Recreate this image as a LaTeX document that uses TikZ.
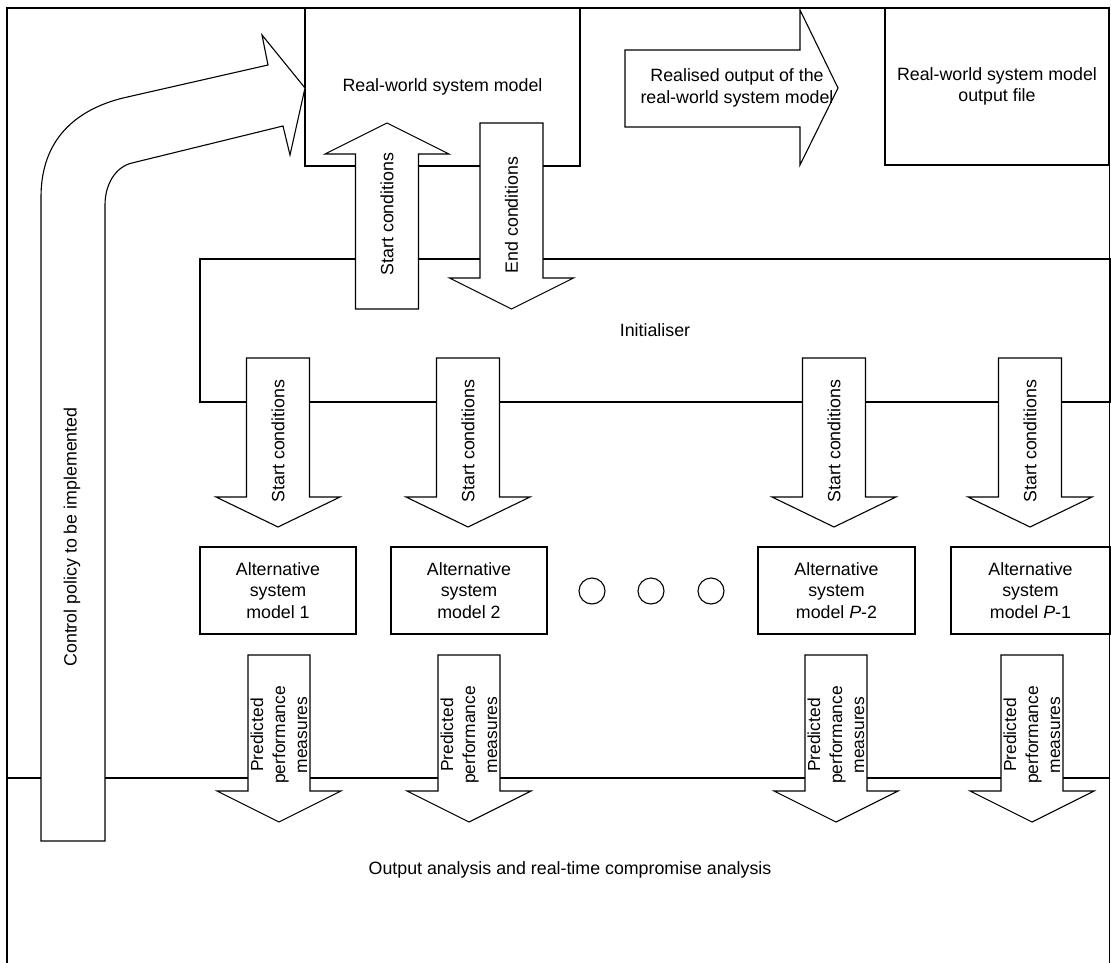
\documentclass[tikz,border=0pt]{standalone}
\usepackage{fontspec}
\setmainfont{Liberation Sans}
\newcommand{\diagfont}{\fontsize{17.8}{21.5}\selectfont}
\newcommand{\smallfont}{\fontsize{17.4}{22}\selectfont}
% vertical block arrow: centre x, tail y, head-base y, tip y, half shaft width, half head width
\newcommand{\vblock}[6]{%
  \draw[blockarrow] ({#1-#5},#2) -- ({#1+#5},#2) -- ({#1+#5},#3) -- ({#1+#6},#3)
    -- (#1,#4) -- ({#1-#6},#3) -- ({#1-#5},#3) -- cycle;}
\begin{document}
\begin{tikzpicture}[x=1pt,y=-1pt,
  line width=1.1pt, line join=miter,
  box/.style={draw, fill=white, inner sep=0pt, align=center, font=\diagfont},
  blockarrow/.style={draw, fill=white},
  lbl/.style={font=\diagfont, align=center, inner sep=0pt},
  vlbl/.style={lbl, rotate=90},
  plbl/.style={font=\smallfont, align=center, inner sep=0pt, rotate=90},
  dot/.style={draw, circle, minimum size=26pt, inner sep=0pt}]
\useasboundingbox (0,0) rectangle (1111,963);
\clip (0,0) rectangle (1111,963);
\fill[white] (0,0) rectangle (1111,963);

% outer frame
\draw (7,980) -- (7,8) -- (1109.5,8) -- (1109.5,980);

% main boxes
\node[box, minimum width=275pt, minimum height=158pt] (rw) at (442.5,87) {Real-world system model};
\node[box, minimum width=224pt, minimum height=157pt] (rwfile) at (997,86.5) {Real-world system model\\output file};
\node[box, minimum width=910pt, minimum height=143pt] (init) at (655,330.5) {Initialiser};
\draw (7,980) -- (7,778) -- (1109.5,778) -- (1109.5,980);
\node[lbl] (outlbl) at (570,870) {Output analysis and real-time compromise analysis};

% control policy arrow bending into the real-world model
\draw[blockarrow] (41,841) -- (41,197) .. controls (41,140) and (75,110) .. (123,98)
  -- (268,65) -- (262,35) -- (305,88) -- (290,155) -- (283,126) -- (132,163)
  .. controls (115,167) and (105,185) .. (105,205) -- (105,841) -- cycle;
\node[vlbl] (ctrl) at (72,537) {Control policy to be implemented};

% realised output arrow
\draw[blockarrow] (625,50) -- (800,50) -- (800,10) -- (838,88) -- (800,165)
  -- (800,127) -- (625,127) -- cycle;
\node[lbl] (real) at (737,88) {Realised output of the\\real-world system model};

% start / end conditions between model and initialiser
\vblock{387}{309}{154}{123}{31.5}{62}
\node[vlbl] (sc0) at (387,214) {Start conditions};
\vblock{511.5}{123}{278}{309}{31.5}{62}
\node[vlbl] (ec0) at (511.5,215) {End conditions};

% start conditions to the alternative models
\foreach \cx/\nm in {278/sc1, 468/sc2, 834/sc3, 1030/sc4}{
  \vblock{\cx}{358}{497}{527}{31.5}{62}
  \node[vlbl] (\nm) at (\cx,441) {Start conditions};
}

% alternative system models
\node[box, minimum width=156pt, minimum height=87pt] (alt1) at (278,590.5) {Alternative\\system\\model 1};
\node[box, minimum width=156pt, minimum height=87pt] (alt2) at (469,590.5) {Alternative\\system\\model 2};
\node[box, minimum width=157pt, minimum height=87pt] (alt3) at (836.5,590.5) {Alternative\\system\\model \textit{P}-2};
\node[box, minimum width=159pt, minimum height=87pt] (alt4) at (1030.5,590.5) {Alternative\\system\\model \textit{P}-1};

\node[dot] (d1) at (592,591) {};
\node[dot] (d2) at (651,591) {};
\node[dot] (d3) at (711,591) {};

% predicted performance measures into the output analysis
\foreach \cx/\nm in {279/pm1, 469/pm2, 836/pm3, 1032/pm4}{
  \vblock{\cx}{655}{791}{822}{31}{62}
  \node[plbl] (\nm) at (\cx,735) {Predicted\\performance\\measures};
}
\end{tikzpicture}
\end{document}
